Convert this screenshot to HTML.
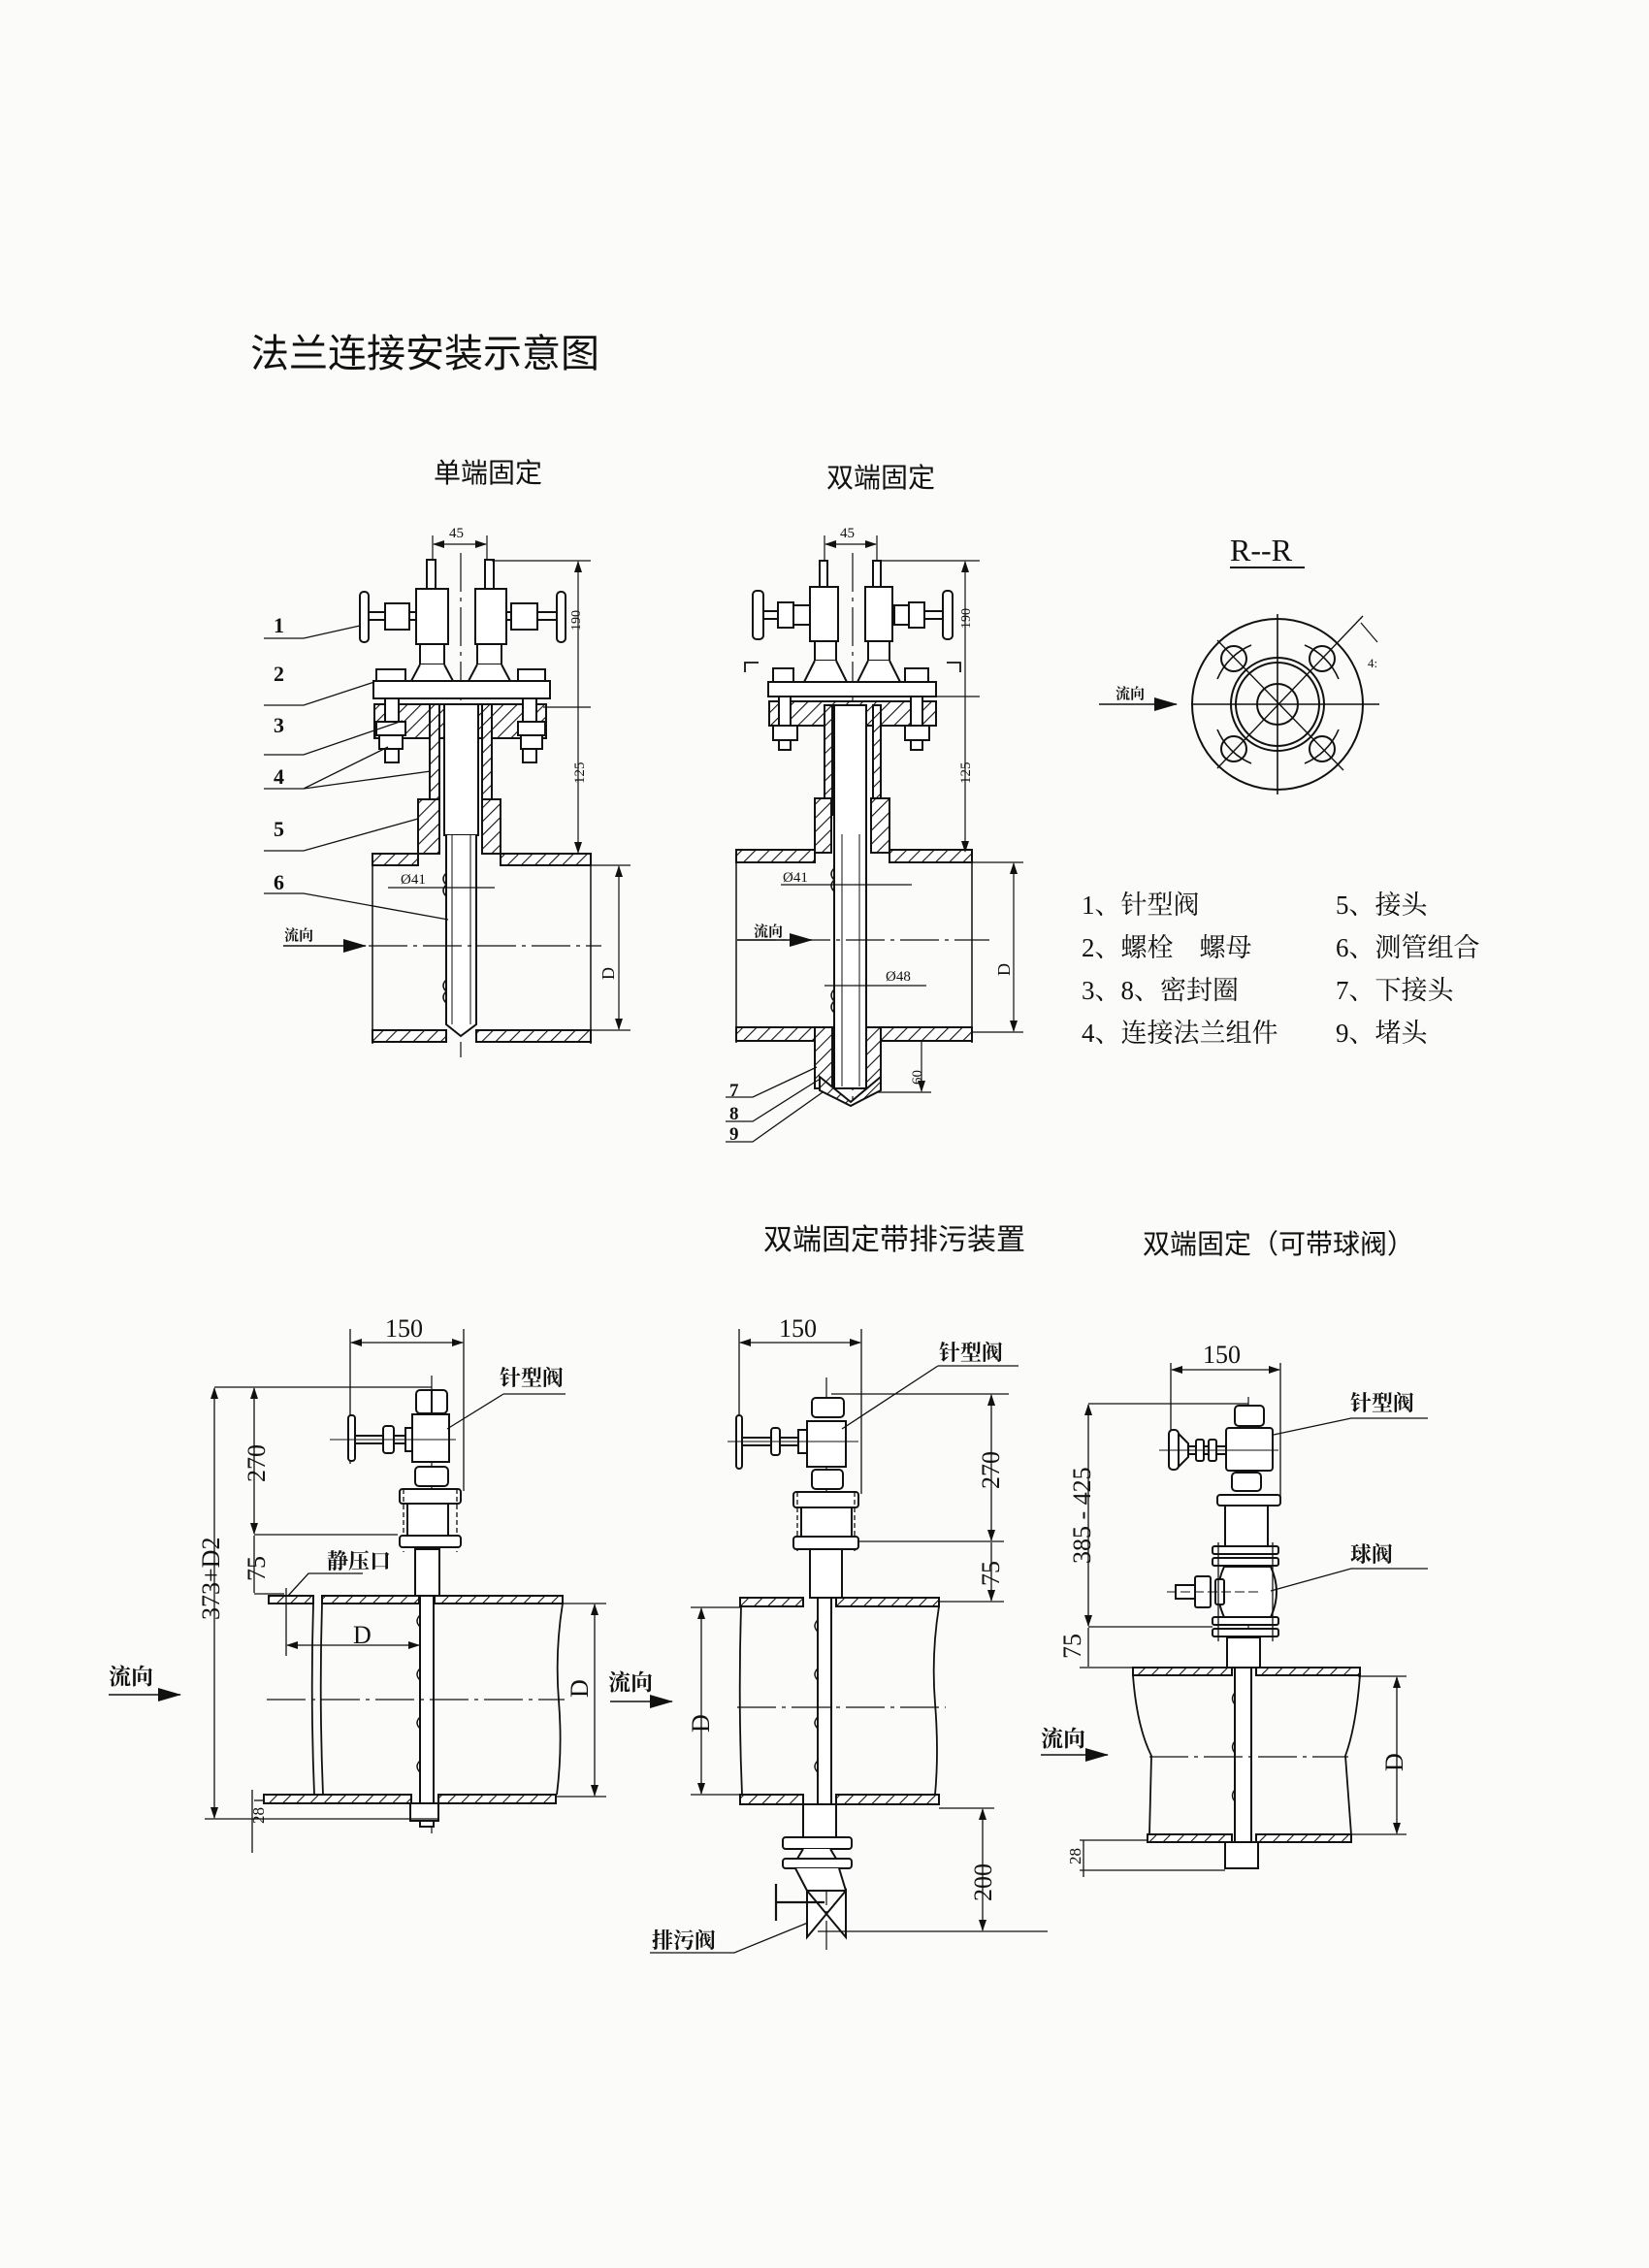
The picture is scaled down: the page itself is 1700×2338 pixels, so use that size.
<!DOCTYPE html>
<html><head><meta charset="utf-8"><style>
html,body{margin:0;padding:0;background:#fbfbfa}
svg{display:block}
text{font-family:"Liberation Serif","Noto Serif CJK SC","Noto Sans CJK SC",serif;fill:#111}
.c{font-family:"Liberation Sans","Noto Sans CJK SC",sans-serif}
</style></head><body>
<svg width="1700" height="2338" viewBox="0 0 1700 2338" xmlns="http://www.w3.org/2000/svg">
<defs>
<pattern id="h" width="10" height="10" patternUnits="userSpaceOnUse" patternTransform="rotate(45)">
<rect width="10" height="10" fill="#fff"/><line x1="0" y1="0" x2="0" y2="10" stroke="#111" stroke-width="2.2"/></pattern>
<marker id="a" markerWidth="12" markerHeight="8" refX="11" refY="4" orient="auto" markerUnits="userSpaceOnUse"><path d="M0,0 L12,4 L0,8 z" fill="#111"/></marker>
<marker id="as" markerWidth="12" markerHeight="8" refX="1" refY="4" orient="auto" markerUnits="userSpaceOnUse"><path d="M12,0 L0,4 L12,8 z" fill="#111"/></marker>
<marker id="big" markerWidth="24" markerHeight="14" refX="23" refY="7" orient="auto" markerUnits="userSpaceOnUse"><path d="M0,0 L24,7 L0,14 z" fill="#111"/></marker>
</defs>
<g stroke="#111" stroke-width="2" fill="none">

<!-- ===== TOP DIAGRAM 1 ===== -->
<line x1="475" y1="570" x2="475" y2="1090" stroke-width="1.2" stroke-dasharray="40,6,4,6"/>
<!-- left valve -->
<rect x="440" y="577" width="9" height="30" fill="#fff"/>
<rect x="429" y="607" width="33" height="57" fill="#fff"/>
<line x1="380" y1="631" x2="429" y2="631"/><line x1="380" y1="639" x2="429" y2="639"/>
<rect x="397" y="622" width="25" height="27" fill="#fff"/>
<rect x="371" y="610" width="9" height="52" rx="4" fill="#fff"/>
<rect x="433" y="664" width="25" height="21" fill="#fff"/>
<path d="M433,685 L424,702 L467,702 L458,685" fill="#fff"/>
<!-- right valve -->
<rect x="500" y="577" width="9" height="30" fill="#fff"/>
<rect x="490" y="607" width="32" height="57" fill="#fff"/>
<line x1="522" y1="631" x2="574" y2="631"/><line x1="522" y1="639" x2="574" y2="639"/>
<rect x="527" y="622" width="27" height="27" fill="#fff"/>
<rect x="574" y="610" width="9" height="52" rx="4" fill="#fff"/>
<rect x="492" y="664" width="25" height="21" fill="#fff"/>
<path d="M492,685 L483,702 L526,702 L517,685" fill="#fff"/>
<!-- flanges -->
<rect x="388" y="690" width="30" height="12" fill="#fff"/><rect x="534" y="690" width="28" height="12" fill="#fff"/>
<rect x="385" y="702" width="182" height="18" fill="#fff"/>
<rect x="386" y="726" width="177" height="35" fill="url(#h)"/>
<rect x="397" y="720" width="14" height="66" fill="#fff"/><rect x="539" y="720" width="14" height="66" fill="#fff"/>
<rect x="388" y="744" width="30" height="14" fill="#fff"/><rect x="391" y="758" width="24" height="14" fill="#fff"/>
<rect x="534" y="744" width="28" height="14" fill="#fff"/><rect x="537" y="758" width="22" height="14" fill="#fff"/>
<!-- tube -->
<rect x="443" y="726" width="10" height="114" fill="url(#h)"/>
<rect x="497" y="726" width="10" height="114" fill="url(#h)"/>
<rect x="431" y="824" width="22" height="56" fill="url(#h)"/>
<rect x="497" y="824" width="19" height="56" fill="url(#h)"/>
<rect x="458" y="726" width="35" height="135" fill="#fff"/>
<path d="M460,861 L460,1056 L475,1068 L491,1056 L491,861" fill="#fff"/>
<path d="M460,900 q-6,6 0,12 q-6,6 0,12 M460,1010 q-6,6 0,12 q-6,6 0,12" stroke-width="1.5"/>
<line x1="466" y1="861" x2="466" y2="1056" stroke-width="1"/><line x1="485" y1="861" x2="485" y2="1056" stroke-width="1"/>
<!-- pipe -->
<rect x="384" y="880" width="47" height="12" fill="url(#h)"/>
<rect x="516" y="880" width="93" height="12" fill="url(#h)"/>
<rect x="384" y="1062" width="76" height="12" fill="url(#h)"/>
<rect x="491" y="1062" width="118" height="12" fill="url(#h)"/>
<line x1="384" y1="880" x2="384" y2="1076" stroke-width="1.5"/>
<line x1="609" y1="880" x2="609" y2="1076" stroke-width="1.5"/>
<line x1="380" y1="975" x2="620" y2="975" stroke-width="1.2" stroke-dasharray="40,6,4,6"/>
<!-- dims -->
<line x1="446" y1="552" x2="446" y2="578" stroke-width="1.2"/><line x1="502" y1="552" x2="502" y2="578" stroke-width="1.2"/>
<line x1="447" y1="561" x2="501" y2="561" stroke-width="1.2" marker-start="url(#as)" marker-end="url(#a)"/>
<line x1="507" y1="578" x2="609" y2="578" stroke-width="1.2"/>
<line x1="560" y1="729" x2="609" y2="729" stroke-width="1.2"/>
<line x1="596" y1="579" x2="596" y2="879" stroke-width="1.2" marker-start="url(#as)" marker-end="url(#a)"/>
<line x1="609" y1="892" x2="650" y2="892" stroke-width="1.2"/><line x1="609" y1="1062" x2="650" y2="1062" stroke-width="1.2"/>
<line x1="638" y1="893" x2="638" y2="1061" stroke-width="1.2" marker-start="url(#as)" marker-end="url(#a)"/>
<line x1="400" y1="915" x2="510" y2="915" stroke-width="1.2"/>
<line x1="292" y1="975" x2="377" y2="975" stroke-width="1.5" marker-end="url(#big)"/>
<!-- leaders -->
<path d="M272,658 L313,658 L371,645 M272,727 L313,727 L386,703 M272,778 L313,778 L415,743 M272,813 L313,813 L400,770 M313,813 L444,795 M272,877 L313,877 L431,844 M272,921 L313,921 L462,948" stroke-width="1.3"/>

<!-- ===== TOP DIAGRAM 2 ===== -->
<line x1="879" y1="570" x2="879" y2="1140" stroke-width="1.2" stroke-dasharray="40,6,4,6"/>
<rect x="845" y="578" width="8" height="27" fill="#fff"/>
<rect x="835" y="605" width="29" height="56" fill="#fff"/>
<line x1="787" y1="630" x2="835" y2="630"/><line x1="787" y1="638" x2="835" y2="638"/>
<rect x="802" y="621" width="16" height="26" fill="#fff"/><rect x="818" y="624" width="17" height="20" fill="#fff"/>
<rect x="776" y="609" width="11" height="50" rx="4" fill="#fff"/>
<rect x="840" y="661" width="22" height="20" fill="#fff"/>
<path d="M840,681 L829,703 L873,703 L862,681" fill="#fff"/>
<rect x="900" y="578" width="8" height="27" fill="#fff"/>
<rect x="892" y="605" width="28" height="56" fill="#fff"/>
<line x1="920" y1="630" x2="972" y2="630"/><line x1="920" y1="638" x2="972" y2="638"/>
<rect x="937" y="621" width="16" height="26" fill="#fff"/><rect x="922" y="624" width="15" height="20" fill="#fff"/>
<rect x="972" y="609" width="10" height="50" rx="4" fill="#fff"/>
<rect x="895" y="661" width="22" height="20" fill="#fff"/>
<path d="M895,681 L884,703 L928,703 L917,681" fill="#fff"/>
<rect x="797" y="689" width="21" height="14" fill="#fff"/><rect x="933" y="689" width="24" height="14" fill="#fff"/>
<rect x="792" y="703" width="173" height="15" fill="#fff"/>
<rect x="793" y="723" width="172" height="25" fill="url(#h)"/>
<rect x="803" y="718" width="12" height="55" fill="#fff"/><rect x="939" y="718" width="12" height="55" fill="#fff"/>
<rect x="797" y="748" width="25" height="15" fill="#fff"/><rect x="933" y="748" width="25" height="15" fill="#fff"/>
<path d="M768,693 L768,683 L782,683 M990,693 L990,683 L976,683" stroke-width="1.8"/>
<rect x="850" y="727" width="8" height="113" fill="url(#h)"/>
<rect x="900" y="727" width="8" height="113" fill="url(#h)"/>
<rect x="840" y="823" width="17" height="56" fill="url(#h)"/>
<rect x="898" y="823" width="19" height="56" fill="url(#h)"/>
<rect x="860" y="727" width="33" height="395" fill="#fff"/>
<line x1="868" y1="860" x2="868" y2="1120" stroke-width="1"/><line x1="886" y1="860" x2="886" y2="1120" stroke-width="1"/>
<path d="M860,895 q-6,6 0,12 q-6,6 0,12 M860,1020 q-6,6 0,12 q-6,6 0,12" stroke-width="1.5"/>
<rect x="759" y="876" width="81" height="13" fill="url(#h)"/>
<rect x="917" y="876" width="85" height="13" fill="url(#h)"/>
<rect x="759" y="1059" width="81" height="14" fill="url(#h)"/>
<rect x="908" y="1059" width="94" height="14" fill="url(#h)"/>
<rect x="840" y="1059" width="18" height="63" fill="url(#h)"/>
<rect x="893" y="1059" width="15" height="63" fill="url(#h)"/>
<path d="M845,1110 L877,1136 L908,1110 L908,1124 L877,1140 L845,1124 z" fill="url(#h)"/>
<line x1="759" y1="876" x2="759" y2="1075" stroke-width="1.5"/>
<line x1="1002" y1="876" x2="1002" y2="1075" stroke-width="1.5"/>
<line x1="760" y1="969" x2="1020" y2="969" stroke-width="1.2" stroke-dasharray="40,6,4,6"/>
<line x1="850" y1="552" x2="850" y2="578" stroke-width="1.2"/><line x1="904" y1="552" x2="904" y2="578" stroke-width="1.2"/>
<line x1="851" y1="561" x2="903" y2="561" stroke-width="1.2" marker-start="url(#as)" marker-end="url(#a)"/>
<line x1="908" y1="578" x2="1010" y2="578" stroke-width="1.2"/>
<line x1="965" y1="718" x2="1010" y2="718" stroke-width="1.2"/>
<line x1="995" y1="579" x2="995" y2="878" stroke-width="1.2" marker-start="url(#as)" marker-end="url(#a)"/>
<line x1="1002" y1="889" x2="1055" y2="889" stroke-width="1.2"/><line x1="1002" y1="1064" x2="1055" y2="1064" stroke-width="1.2"/>
<line x1="1045" y1="890" x2="1045" y2="1063" stroke-width="1.2" marker-start="url(#as)" marker-end="url(#a)"/>
<line x1="905" y1="1126" x2="960" y2="1126" stroke-width="1.2"/>
<line x1="950" y1="1074" x2="950" y2="1125" stroke-width="1.2" marker-end="url(#a)"/>
<line x1="805" y1="912" x2="940" y2="912" stroke-width="1.2"/>
<line x1="850" y1="1016" x2="955" y2="1016" stroke-width="1.2"/>
<line x1="760" y1="969" x2="837" y2="969" stroke-width="1.5" marker-end="url(#big)"/>
<path d="M748,1131 L776,1131 L842,1100 M748,1156 L776,1156 L844,1113 M748,1177 L776,1177 L848,1126" stroke-width="1.3"/>

<!-- ===== R-R section ===== -->
<line x1="1268" y1="585" x2="1345" y2="585" stroke-width="2"/>
<circle cx="1317" cy="726" r="88"/>
<circle cx="1317" cy="726" r="48"/>
<circle cx="1317" cy="726" r="43"/>
<circle cx="1317" cy="726" r="21"/>
<path d="M1255,700 A65,65 0 0 1 1290,665 M1345,665 A65,65 0 0 1 1380,700 M1255,752 A65,65 0 0 0 1290,787 M1345,787 A65,65 0 0 0 1380,752" stroke-width="1.6"/>
<circle cx="1272" cy="679" r="13"/><circle cx="1363" cy="679" r="13"/>
<circle cx="1272" cy="772" r="13"/><circle cx="1363" cy="772" r="13"/>
<line x1="1228" y1="726" x2="1422" y2="726" stroke-width="1.6"/>
<line x1="1317" y1="633" x2="1317" y2="819" stroke-width="1.6"/>
<line x1="1255" y1="660" x2="1385" y2="794" stroke-width="1.4"/>
<line x1="1255" y1="792" x2="1405" y2="635" stroke-width="1.4"/>
<line x1="1403" y1="642" x2="1420" y2="662" stroke-width="1.2"/>
<line x1="1133" y1="726" x2="1213" y2="726" stroke-width="1.6" marker-end="url(#big)"/>

<!-- ===== BOTTOM DIAGRAM 1 ===== -->
<line x1="445" y1="1418" x2="445" y2="1890" stroke-width="1.2" stroke-dasharray="40,6,4,6"/>
<line x1="361" y1="1370" x2="361" y2="1509" stroke-width="1.3"/>
<line x1="478" y1="1370" x2="478" y2="1537" stroke-width="1.3"/>
<line x1="362" y1="1384" x2="477" y2="1384" stroke-width="1.3" marker-start="url(#as)" marker-end="url(#a)"/>
<rect x="429" y="1433" width="32" height="24" rx="4" fill="#fff"/>
<line x1="445" y1="1433" x2="445" y2="1457"/>
<rect x="425" y="1458" width="38" height="49" fill="#fff"/>
<line x1="366" y1="1480" x2="418" y2="1480"/><line x1="366" y1="1488" x2="418" y2="1488"/>
<rect x="395" y="1470" width="11" height="28" rx="3" fill="#fff"/><rect x="418" y="1472" width="7" height="24" fill="#fff"/>
<rect x="359" y="1459" width="7" height="47" rx="3" fill="#fff"/>
<line x1="340" y1="1484" x2="470" y2="1484" stroke-width="1"/>
<rect x="428" y="1512" width="34" height="20" rx="4" fill="#fff"/>
<rect x="412" y="1535" width="63" height="15" rx="3" fill="#fff"/>
<rect x="420" y="1550" width="42" height="33" fill="#fff"/>
<line x1="416" y1="1535" x2="416" y2="1600" stroke-width="1.3" stroke-dasharray="5,3"/><line x1="471" y1="1535" x2="471" y2="1600" stroke-width="1.3" stroke-dasharray="5,3"/>
<rect x="412" y="1583" width="63" height="12" rx="3" fill="#fff"/>
<rect x="428" y="1597" width="25" height="48" fill="#fff"/>
<rect x="277" y="1645" width="46" height="8" fill="url(#h)"/>
<rect x="332" y="1645" width="100" height="8" fill="url(#h)"/>
<rect x="448" y="1645" width="132" height="8" fill="url(#h)"/>
<rect x="272" y="1850" width="152" height="9" fill="url(#h)"/>
<rect x="452" y="1850" width="121" height="9" fill="url(#h)"/>
<path d="M323,1653 q-3,100 1,197 M332,1653 q-3,100 1,197" stroke-width="1.8"/>
<path d="M580,1653 q-8,50 -4,100 q4,50 -2,97" stroke-width="1.8"/>
<rect x="433" y="1645" width="14" height="238" fill="#fff"/>
<path d="M433,1665 q-6,6 0,12 M433,1720 q-6,6 0,12 M433,1770 q-6,6 0,12 M433,1815 q-6,6 0,12" stroke-width="1.4"/>
<rect x="423" y="1859" width="29" height="18" fill="#fff"/>
<line x1="275" y1="1752" x2="582" y2="1752" stroke-width="1.3" stroke-dasharray="40,6,4,6"/>
<line x1="221" y1="1430" x2="445" y2="1430" stroke-width="1.3"/>
<line x1="262" y1="1582" x2="410" y2="1582" stroke-width="1.3"/>
<line x1="262" y1="1643" x2="293" y2="1643" stroke-width="1.3"/>
<line x1="211" y1="1875" x2="452" y2="1875" stroke-width="1.3"/>
<line x1="221" y1="1431" x2="221" y2="1874" stroke-width="1.3" marker-start="url(#as)" marker-end="url(#a)"/>
<line x1="262" y1="1431" x2="262" y2="1581" stroke-width="1.3" marker-start="url(#as)" marker-end="url(#a)"/>
<line x1="262" y1="1583" x2="262" y2="1642" stroke-width="1.3"/>
<line x1="260" y1="1845" x2="260" y2="1910" stroke-width="1.3"/>
<line x1="262" y1="1856" x2="272" y2="1856" stroke-width="1.3"/>
<line x1="295" y1="1637" x2="295" y2="1707" stroke-width="1.3"/>
<line x1="296" y1="1696" x2="432" y2="1696" stroke-width="1.3" marker-start="url(#as)" marker-end="url(#a)"/>
<line x1="580" y1="1653" x2="625" y2="1653" stroke-width="1.3"/><line x1="573" y1="1852" x2="625" y2="1852" stroke-width="1.3"/>
<line x1="613" y1="1654" x2="613" y2="1851" stroke-width="1.3" marker-start="url(#as)" marker-end="url(#a)"/>
<path d="M374,1622 L318,1622 L297,1645" stroke-width="1.3"/>
<path d="M519,1437 L583,1437 M519,1437 L461,1473" stroke-width="1.3"/>
<line x1="112" y1="1747" x2="186" y2="1747" stroke-width="1.5" marker-end="url(#big)"/>

<!-- ===== BOTTOM DIAGRAM 2 ===== -->
<line x1="852" y1="1420" x2="852" y2="2010" stroke-width="1.2" stroke-dasharray="40,6,4,6"/>
<line x1="762" y1="1370" x2="762" y2="1509" stroke-width="1.3"/>
<line x1="888" y1="1370" x2="888" y2="1540" stroke-width="1.3"/>
<line x1="763" y1="1384" x2="887" y2="1384" stroke-width="1.3" marker-start="url(#as)" marker-end="url(#a)"/>
<rect x="837" y="1441" width="33" height="20" rx="4" fill="#fff"/>
<rect x="832" y="1465" width="40" height="47" fill="#fff"/>
<line x1="765" y1="1482" x2="825" y2="1482"/><line x1="765" y1="1490" x2="825" y2="1490"/>
<rect x="795" y="1472" width="9" height="28" rx="3" fill="#fff"/><rect x="823" y="1474" width="9" height="24" fill="#fff"/>
<rect x="759" y="1459" width="6" height="55" rx="3" fill="#fff"/>
<line x1="750" y1="1486" x2="885" y2="1486" stroke-width="1"/>
<rect x="837" y="1515" width="32" height="20" rx="4" fill="#fff"/>
<rect x="818" y="1538" width="67" height="16" rx="3" fill="#fff"/>
<rect x="826" y="1554" width="52" height="30" fill="#fff"/>
<line x1="822" y1="1538" x2="822" y2="1602" stroke-width="1.3" stroke-dasharray="5,3"/><line x1="881" y1="1538" x2="881" y2="1602" stroke-width="1.3" stroke-dasharray="5,3"/>
<rect x="818" y="1584" width="67" height="13" rx="3" fill="#fff"/>
<rect x="835" y="1597" width="33" height="50" fill="#fff"/>
<rect x="763" y="1647" width="65" height="9" fill="url(#h)"/>
<rect x="862" y="1647" width="106" height="9" fill="url(#h)"/>
<rect x="763" y="1850" width="65" height="10" fill="url(#h)"/>
<rect x="862" y="1850" width="106" height="10" fill="url(#h)"/>
<path d="M764,1656 q-3,100 1,194" stroke-width="1.8"/>
<path d="M968,1656 q-8,50 -4,100 q4,50 0,94" stroke-width="1.8"/>
<rect x="843" y="1647" width="14" height="213" fill="#fff"/>
<path d="M843,1670 q-6,6 0,12 M843,1720 q-6,6 0,12 M843,1770 q-6,6 0,12 M843,1815 q-6,6 0,12" stroke-width="1.4"/>
<line x1="760" y1="1760" x2="975" y2="1760" stroke-width="1.3" stroke-dasharray="40,6,4,6"/>
<rect x="828" y="1860" width="34" height="34" fill="#fff"/>
<rect x="807" y="1894" width="71" height="12" rx="3" fill="#fff"/>
<path d="M828,1906 L822,1916 L862,1916 L856,1906" fill="#fff"/>
<rect x="807" y="1916" width="71" height="10" rx="3" fill="#fff"/>
<path d="M820,1926 L832,1949 L872,1949 L865,1926" fill="#fff"/>
<path d="M832,1949 L872,1997 L872,1949 L832,1997 z" fill="#fff"/>
<path d="M800,1942 L800,1980 M800,1961 L850,1961" stroke-width="2.2"/>
<line x1="857" y1="1437" x2="1040" y2="1437" stroke-width="1.3"/>
<line x1="885" y1="1589" x2="1035" y2="1589" stroke-width="1.3"/>
<line x1="968" y1="1651" x2="1035" y2="1651" stroke-width="1.3"/>
<line x1="1022" y1="1438" x2="1022" y2="1588" stroke-width="1.3" marker-start="url(#as)" marker-end="url(#a)"/>
<line x1="1022" y1="1590" x2="1022" y2="1650" stroke-width="1.3" marker-end="url(#a)"/>
<line x1="968" y1="1864" x2="1025" y2="1864" stroke-width="1.3"/>
<line x1="843" y1="1991" x2="1080" y2="1991" stroke-width="1.3"/>
<line x1="1013" y1="1865" x2="1013" y2="1990" stroke-width="1.3" marker-start="url(#as)" marker-end="url(#a)"/>
<line x1="712" y1="1657" x2="763" y2="1657" stroke-width="1.3"/><line x1="712" y1="1850" x2="763" y2="1850" stroke-width="1.3"/>
<line x1="723" y1="1658" x2="723" y2="1849" stroke-width="1.3" marker-start="url(#as)" marker-end="url(#a)"/>
<path d="M967,1408 L1050,1408 M967,1408 L868,1473" stroke-width="1.3"/>
<path d="M670,2013 L757,2013 L833,1982" stroke-width="1.3"/>
<line x1="629" y1="1754" x2="693" y2="1754" stroke-width="1.5" marker-end="url(#big)"/>

<!-- ===== BOTTOM DIAGRAM 3 ===== -->
<line x1="1287" y1="1440" x2="1287" y2="1925" stroke-width="1.2" stroke-dasharray="40,6,4,6"/>
<line x1="1207" y1="1405" x2="1207" y2="1514" stroke-width="1.3"/>
<line x1="1320" y1="1405" x2="1320" y2="1550" stroke-width="1.3"/>
<line x1="1208" y1="1412" x2="1319" y2="1412" stroke-width="1.3" marker-start="url(#as)" marker-end="url(#a)"/>
<rect x="1273" y="1449" width="30" height="21" rx="4" fill="#fff"/>
<rect x="1264" y="1472" width="48" height="44" rx="3" fill="#fff"/>
<line x1="1215" y1="1491" x2="1264" y2="1491"/><line x1="1215" y1="1499" x2="1264" y2="1499"/>
<rect x="1233" y="1484" width="8" height="22" rx="2" fill="#fff"/><rect x="1246" y="1484" width="8" height="22" rx="2" fill="#fff"/>
<path d="M1215,1478 L1225,1488 L1225,1502 L1215,1512" fill="#fff"/>
<rect x="1205" y="1474" width="10" height="41" rx="4" fill="#fff"/>
<line x1="1195" y1="1495" x2="1318" y2="1495" stroke-width="1"/>
<rect x="1270" y="1518" width="30" height="19" rx="4" fill="#fff"/>
<rect x="1255" y="1541" width="65" height="11" rx="3" fill="#fff"/>
<rect x="1263" y="1552" width="44" height="42" fill="#fff"/>
<rect x="1250" y="1594" width="68" height="8" rx="2" fill="#fff"/><rect x="1250" y="1606" width="68" height="8" rx="2" fill="#fff"/>
<path d="M1262,1615 Q1250,1641 1262,1667 L1310,1667 Q1322,1641 1310,1615 z" fill="#fff"/>
<rect x="1253" y="1628" width="9" height="26" rx="2" fill="#fff"/>
<rect x="1232" y="1625" width="16" height="32" rx="2" fill="#fff"/>
<rect x="1212" y="1634" width="20" height="14" fill="#fff"/>
<line x1="1203" y1="1641" x2="1300" y2="1641" stroke-width="1" stroke-dasharray="10,4"/>
<rect x="1250" y="1667" width="68" height="8" rx="2" fill="#fff"/><rect x="1250" y="1679" width="68" height="8" rx="2" fill="#fff"/>
<line x1="1256" y1="1590" x2="1256" y2="1692" stroke-width="1.3"/><line x1="1312" y1="1590" x2="1312" y2="1692" stroke-width="1.3"/>
<rect x="1265" y="1688" width="34" height="31" fill="#fff"/>
<rect x="1168" y="1719" width="102" height="8" fill="url(#h)"/>
<rect x="1295" y="1719" width="107" height="8" fill="url(#h)"/>
<rect x="1183" y="1891" width="87" height="8" fill="url(#h)"/>
<rect x="1295" y="1891" width="98" height="8" fill="url(#h)"/>
<path d="M1168,1727 Q1172,1780 1187,1810 L1185,1891" stroke-width="1.8"/>
<path d="M1402,1727 Q1398,1780 1387,1810 L1393,1891" stroke-width="1.8"/>
<rect x="1273" y="1719" width="17" height="180" fill="#fff"/>
<path d="M1273,1745 q-5,6 0,12 M1273,1795 q-5,6 0,12 M1273,1845 q-5,6 0,12" stroke-width="1.4"/>
<rect x="1263" y="1899" width="34" height="27" fill="#fff"/>
<line x1="1185" y1="1811" x2="1390" y2="1811" stroke-width="1.3" stroke-dasharray="40,6,4,6"/>
<line x1="1122" y1="1447" x2="1287" y2="1447" stroke-width="1.3"/>
<line x1="1122" y1="1677" x2="1250" y2="1677" stroke-width="1.3"/>
<line x1="1113" y1="1719" x2="1263" y2="1719" stroke-width="1.3"/>
<line x1="1113" y1="1897" x2="1183" y2="1897" stroke-width="1.3"/>
<line x1="1113" y1="1928" x2="1263" y2="1928" stroke-width="1.3"/>
<line x1="1122" y1="1448" x2="1122" y2="1676" stroke-width="1.3" marker-start="url(#as)" marker-end="url(#a)"/>
<line x1="1122" y1="1678" x2="1122" y2="1718" stroke-width="1.3"/>
<line x1="1117" y1="1897" x2="1117" y2="1935" stroke-width="1.3"/>
<line x1="1400" y1="1728" x2="1450" y2="1728" stroke-width="1.3"/><line x1="1393" y1="1891" x2="1450" y2="1891" stroke-width="1.3"/>
<line x1="1440" y1="1729" x2="1440" y2="1890" stroke-width="1.3" marker-start="url(#as)" marker-end="url(#a)"/>
<path d="M1472,1462 L1393,1462 L1313,1479 M1472,1617 L1393,1617 L1310,1640" stroke-width="1.3"/>
<line x1="1073" y1="1809" x2="1142" y2="1809" stroke-width="1.5" marker-end="url(#big)"/>
</g>

<!-- ===== TEXT ===== -->
<text x="258" y="378" font-size="40" class="c">法兰连接安装示意图</text>
<text x="447" y="497" font-size="28" class="c">单端固定</text>
<text x="852" y="502" font-size="28" class="c">双端固定</text>
<text x="1268" y="578" font-size="32">R--R</text>

<g font-size="22" font-weight="bold">
<text x="282" y="652">1</text><text x="282" y="702">2</text><text x="282" y="755">3</text>
<text x="282" y="808">4</text><text x="282" y="862">5</text><text x="282" y="917">6</text>
<text x="752" y="1130" font-size="19">7</text><text x="752" y="1154" font-size="19">8</text><text x="752" y="1175" font-size="19">9</text>
</g>
<g font-size="15">
<text x="463" y="554">45</text><text x="866" y="554">45</text>
<text x="413" y="911">Ø41</text><text x="807" y="909">Ø41</text><text x="913" y="1011">Ø48</text>
<text font-size="14" transform="translate(598,650) rotate(-90)">190</text>
<text font-size="14" transform="translate(1000,648) rotate(-90)">190</text>
<text transform="translate(602,808) rotate(-90)">125</text>
<text transform="translate(1000,808) rotate(-90)">125</text>
<text transform="translate(633,1010) rotate(-90)" font-size="18">D</text>
<text transform="translate(1041,1006) rotate(-90)" font-size="18">D</text>
<text transform="translate(950,1118) rotate(-90)">60</text>
<text x="1410" y="688" font-size="13">4:</text>
</g>
<g font-size="15" font-weight="bold">
<text x="293" y="969">流向</text><text x="777" y="965">流向</text><text x="1150" y="720">流向</text>
</g>

<g font-size="27" class="c">
<text x="1115" y="942">1、针型阀</text>
<text x="1115" y="986">2、螺栓　螺母</text>
<text x="1115" y="1030">3、8、密封圈</text>
<text x="1115" y="1074">4、连接法兰组件</text>
<text x="1377" y="942">5、接头</text>
<text x="1377" y="986">6、测管组合</text>
<text x="1377" y="1030">7、下接头</text>
<text x="1377" y="1074">9、堵头</text>
</g>

<text x="787" y="1288" font-size="30" class="c">双端固定带排污装置</text>
<text x="1178" y="1292" font-size="28" class="c">双端固定（可带球阀）</text>

<g font-size="26">
<text x="397" y="1378">150</text><text x="803" y="1378">150</text><text x="1240" y="1405">150</text>
<text transform="translate(273,1528) rotate(-90)">270</text>
<text transform="translate(273,1630) rotate(-90)">75</text>
<text transform="translate(226,1670) rotate(-90)">373+D2</text>
<text font-size="17" transform="translate(272,1880) rotate(-90)">28</text>
<text x="364" y="1694" font-size="26">D</text>
<text transform="translate(606,1750) rotate(-90)">D</text>
<text transform="translate(1030,1535) rotate(-90)">270</text>
<text transform="translate(1030,1635) rotate(-90)">75</text>
<text transform="translate(1022,1960) rotate(-90)">200</text>
<text transform="translate(731,1786) rotate(-90)">D</text>
<text transform="translate(1124,1612) rotate(-90)">385 - 425</text>
<text transform="translate(1114,1710) rotate(-90)">75</text>
<text font-size="17" transform="translate(1114,1922) rotate(-90)">28</text>
<text transform="translate(1446,1826) rotate(-90)">D</text>
</g>
<g font-size="22" font-weight="bold">
<text x="515" y="1428">针型阀</text>
<text x="968" y="1402">针型阀</text>
<text x="1392" y="1454">针型阀</text>
<text x="1392" y="1610">球阀</text>
<text x="337" y="1617">静压口</text>
<text x="672" y="2008">排污阀</text>
<text x="112" y="1736" font-size="23">流向</text>
<text x="627" y="1742" font-size="23">流向</text>
<text x="1073" y="1800" font-size="23">流向</text>
</g>
</svg>
</body></html>
